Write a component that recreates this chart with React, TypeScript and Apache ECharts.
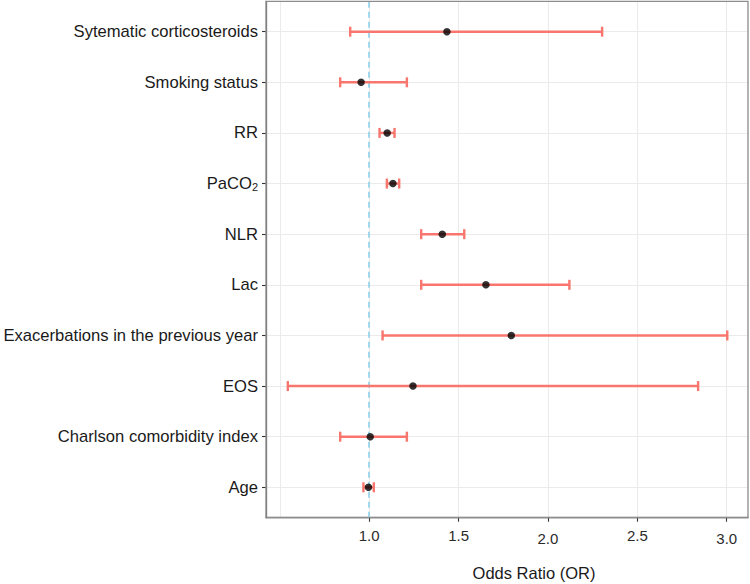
import React, { useEffect, useRef } from "react";
import * as echarts from "echarts";

// Rows listed bottom → top
const categories = [
  "Age",
  "Charlson comorbidity index",
  "EOS",
  "Exacerbations in the previous year",
  "Lac",
  "NLR",
  "PaCO2",
  "RR",
  "Smoking status",
  "Sytematic corticosteroids",
];
const oddsRatio = [0.996, 1.006, 1.245, 1.795, 1.653, 1.409, 1.133, 1.101, 0.955, 1.435];
const ciLow = [0.968, 0.838, 0.545, 1.075, 1.291, 1.291, 1.099, 1.058, 0.838, 0.894];
const ciHigh = [1.026, 1.211, 2.84, 3.003, 2.12, 1.532, 1.168, 1.142, 1.211, 2.303];
const xTickValues = [1, 1.5, 2, 2.5, 3];
const xGridValues = [0.5, 1, 1.5, 2, 2.5, 3];
const refLine = 1;

export default function App() {
  const ref = useRef<HTMLDivElement>(null);
  useEffect(() => {
    if (!ref.current) return;
    const chart = echarts.init(ref.current, null, { renderer: "svg" });
    const xMin = 0.423;
    const xMax = 3.119;
    const font = "'Liberation Sans', Arial, Helvetica, sans-serif";
    const rowIdx = categories.map((_, i) => i);
    chart.setOption({
      animation: false,
      grid: { left: 266, right: 2, top: 1.3, bottom: 66.3, containLabel: false },
      xAxis: [
        {
          type: "value",
          min: xMin,
          max: xMax,
          axisLine: { show: true, onZero: false, lineStyle: { color: "#6e6e6e", width: 1.3 } },
          axisTick: { show: true, customValues: xTickValues, length: 4, lineStyle: { color: "#333", width: 1.1 } },
          axisLabel: {
            customValues: xTickValues,
            margin: 10,
            fontSize: 15,
            fontFamily: font,
            color: "#2b2b2b",
            formatter: (v: number) => {
              const s = v.toFixed(1);
              return v === 2 || v === 3 ? "{lo|" + s + "}" : "{hi|" + s + "}";
            },
            rich: {
              hi: { fontSize: 15, fontFamily: font, color: "#2b2b2b", padding: [0, 0, 0, 0] },
              lo: { fontSize: 15, fontFamily: font, color: "#2b2b2b", padding: [3, 0, 0, 0] },
            },
          },
          splitLine: { show: false },
        },
        {
          type: "value",
          min: xMin,
          max: xMax,
          position: "bottom",
          axisLine: { show: false, onZero: false },
          axisTick: { show: false, customValues: xGridValues },
          axisLabel: { show: false, customValues: xGridValues },
          splitLine: { show: true, lineStyle: { color: "#ebebeb", width: 1.1 } },
        },
      ],
      yAxis: {
        type: "value",
        min: -0.6,
        max: 9.6,
        axisLine: { show: true, onZero: false, lineStyle: { color: "#6e6e6e", width: 1.3 } },
        axisTick: { show: true, customValues: rowIdx, length: 4, lineStyle: { color: "#333", width: 1.1 } },
        axisLabel: {
          customValues: rowIdx,
          margin: 8,
          fontSize: 16.6,
          fontFamily: font,
          color: "#1a1a1a",
          formatter: (v: number) => {
            const name = categories[Math.round(v)];
            return name === "PaCO2" ? "PaCO{sub|2}" : name;
          },
          rich: {
            sub: { fontSize: 11, fontFamily: font, color: "#1a1a1a", padding: [6, 0, 0, 0] },
          },
        },
        splitLine: { show: true, lineStyle: { color: "#ebebeb", width: 1.1 } },
      },
      graphic: [
        {
          type: "rect",
          shape: { x: 266, y: 1.3, width: 482, height: 516.4 },
          style: { fill: "none", stroke: "#8c8c8c", lineWidth: 1.3 },
          z: 50,
          silent: true,
        },
        {
          type: "text",
          x: 534,
          y: 573,
          style: {
            text: "Odds Ratio (OR)",
            fontSize: 16.5,
            fontFamily: font,
            fill: "#1a1a1a",
            align: "center",
            verticalAlign: "middle",
          },
        },
      ],
      series: [
        {
          type: "custom",
          xAxisIndex: 0,
          data: categories.map((_, i) => [ciLow[i], ciHigh[i], i]),
          renderItem: (params: any, api: any) => {
            const lo = api.value(0);
            const hi = api.value(1);
            const y = api.value(2);
            const p1 = api.coord([lo, y]);
            const p2 = api.coord([hi, y]);
            const cap = 5;
            const style = { stroke: "#F8766D", lineWidth: 2.4 };
            return {
              type: "group",
              children: [
                { type: "line", shape: { x1: p1[0], y1: p1[1], x2: p2[0], y2: p2[1] }, style },
                { type: "line", shape: { x1: p1[0], y1: p1[1] - cap, x2: p1[0], y2: p1[1] + cap }, style },
                { type: "line", shape: { x1: p2[0], y1: p2[1] - cap, x2: p2[0], y2: p2[1] + cap }, style },
              ],
            };
          },
          z: 3,
        },
        {
          type: "scatter",
          xAxisIndex: 0,
          data: categories.map((_, i) => [oddsRatio[i], i]),
          symbol: "circle",
          symbolSize: 7.5,
          itemStyle: { color: "#000" },
          z: 4,
          markLine: {
            silent: true,
            symbol: "none",
            label: { show: false },
            lineStyle: { color: "#87CEEB", type: [6, 4], width: 1.5 },
            data: [{ xAxis: refLine }],
            z: 2,
          },
        },
      ],
    });
    return () => chart.dispose();
  }, []);
  return <div ref={ref} style={{ position: "absolute", left: 0, top: 0, width: 750, height: 584 }} />;
}
